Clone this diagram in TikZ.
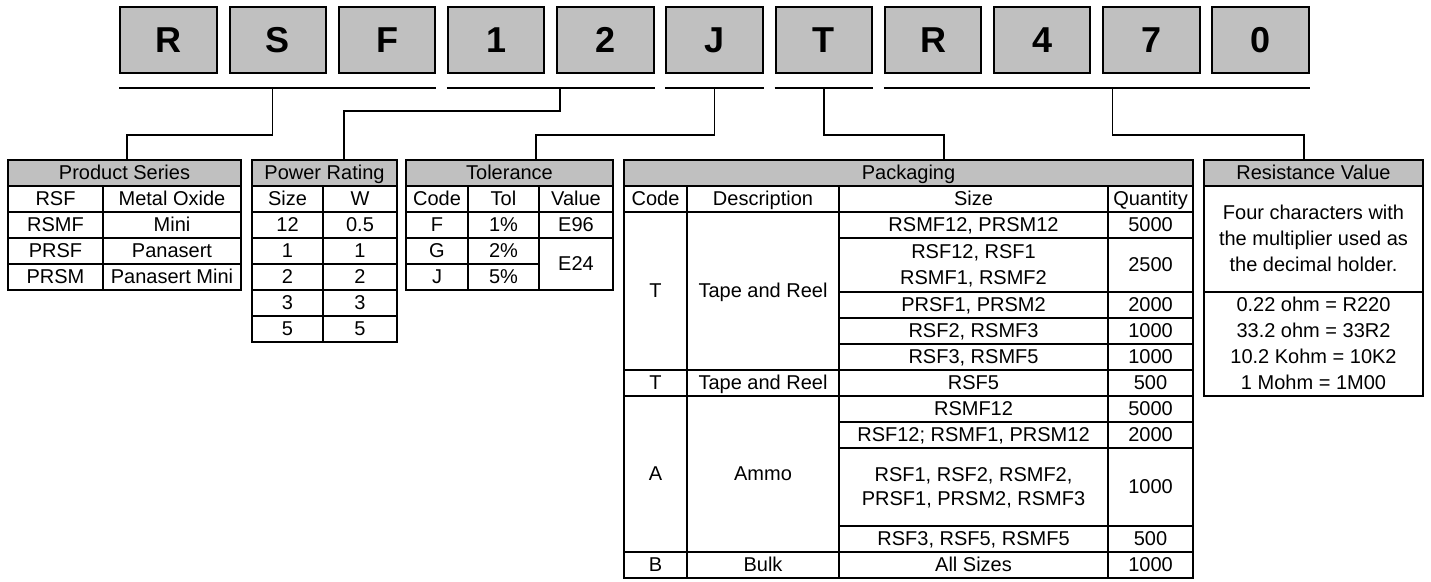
\documentclass[tikz,border=0pt]{standalone}
\usepackage{fontspec}
\setmainfont{Liberation Sans}
\usetikzlibrary{positioning,calc}
\definecolor{boxgray}{RGB}{192,192,192}

\begin{document}
\begin{tikzpicture}[x=1pt, y=-1pt,
    font=\fontsize{20}{24}\selectfont,
    digit/.style={draw, fill=boxgray, line width=2pt, minimum width=96.5pt,
      minimum height=66pt, inner sep=0pt, font=\fontsize{36}{40}\selectfont\bfseries},
    head/.style={draw, fill=boxgray, line width=1.8pt, minimum height=26pt,
      inner sep=0pt, text height=14.5pt, text depth=1pt},
    cell/.style={inner sep=0pt, text height=14.5pt, text depth=1pt},
    grid/.style={line width=1.8pt},
    uline/.style={line width=2.5pt},
    link/.style={line width=1.5pt}]
  \fill[white] (0,0) rectangle (1431,581);
  \def \pitch {109.2}
  \def \first {168.6} % centre of the first box
  % part number
  \foreach \c [count=\i from 0] in {R,S,F,1,2,J,T,R,4,7,0}
    \node[digit] (d\i) at ({\first+\pitch*\i},40) {\c};
  \coordinate (ul) at (0,88);
  \foreach \a/\b in {0/2,3/4,5/5,6/6,7/10}
    \draw[uline] (d\a.west |- ul) -- (d\b.east |- ul);

  % product series
  \node[head, minimum width=233pt] (ps) at (124.5,173) {Product Series};
  \draw[grid] (8,186) rectangle (241,290) (103,186) -- (103,290);
  \foreach \y in {212,238,264} \draw[grid] (8,\y) -- (241,\y);
  \foreach \a/\b [count=\i] in {RSF/Metal Oxide,RSMF/Mini,PRSF/Panasert,PRSM/Panasert Mini} {
    \node[cell] (psa\i) at (55.5,{173+26*\i}) {\a};
    \node[cell] (psb\i) at (172,{173+26*\i}) {\b};
  }

  % power rating
  \node[head, minimum width=145pt] (pr) at (324.5,173) {Power Rating};
  \draw[grid] (252,186) rectangle (397,342) (323,186) -- (323,342);
  \foreach \y in {212,238,264,290,316} \draw[grid] (252,\y) -- (397,\y);
  \foreach \a/\b [count=\i from 0] in {Size/W,12/0.5,1/1,2/2,3/3,5/5} {
    \node[cell] (pra\i) at (287.5,{199+26*\i}) {\a};
    \node[cell] (prb\i) at (360,{199+26*\i}) {\b};
  }

  % tolerance
  \node[head, minimum width=207pt] (tl) at (509.5,173) {Tolerance};
  \draw[grid] (406,186) rectangle (613,290) (468,186) -- (468,290) (539,186) -- (539,290);
  \draw[grid] (406,212) -- (613,212) (406,238) -- (613,238) (406,264) -- (539,264);
  \foreach \a/\b [count=\i from 0] in {Code/Tol,F/1\%,G/2\%,J/5\%} {
    \node[cell] (tla\i) at (437,{199+26*\i}) {\a};
    \node[cell] (tlb\i) at (503.5,{199+26*\i}) {\b};
  }
  \node[cell] (tlv0) at (576,199) {Value};
  \node[cell] (tlv1) at (576,225) {E96};
  \node[cell] (tlv2) at (576,264) {E24};

  % packaging
  \node[head, minimum width=569pt] (pk) at (908.5,173) {Packaging};
  \draw[grid] (624,186) rectangle (1193,578);
  \foreach \x in {687,839,1108} \draw[grid] (\x,186) -- (\x,578);
  \foreach \y in {212,370,396,552} \draw[grid] (624,\y) -- (1193,\y);
  \foreach \y in {238,292,318,344,422,448,526} \draw[grid] (839,\y) -- (1193,\y);
  \foreach \t/\x [count=\i] in {Code/655.5,Description/763,Size/973.5,Quantity/1150.5}
    \node[cell] (pkh\i) at (\x,199) {\t};
  \foreach \a/\b/\y [count=\i] in {T/Tape and Reel/291,T/Tape and Reel/383,A/Ammo/474,B/Bulk/565} {
    \node[cell] (pkc\i) at (655.5,\y) {\a};
    \node[cell] (pkd\i) at (763,\y) {\b};
  }
  \foreach \s/\y [count=\i] in {{RSMF12, PRSM12}/225,{RSF12, RSF1}/252,{RSMF1, RSMF2}/278,
      {PRSF1, PRSM2}/305,{RSF2, RSMF3}/331,{RSF3, RSMF5}/357,RSF5/383,RSMF12/409,
      {RSF12; RSMF1, PRSM12}/435,{RSF1, RSF2, RSMF2,}/475,{PRSF1, PRSM2, RSMF3}/499,
      {RSF3, RSF5, RSMF5}/539,All Sizes/565}
    \node[cell] (pks\i) at (973.5,\y) {\s};
  \foreach \q/\y [count=\i] in {5000/225,2500/265,2000/305,1000/331,1000/357,500/383,
      5000/409,2000/435,1000/487,500/539,1000/565}
    \node[cell] (pkq\i) at (1150.5,\y) {\q};

  % resistance value
  \node[head, minimum width=219pt] (rv) at (1313.5,173) {Resistance Value};
  \draw[grid] (1204,186) rectangle (1423,396) (1204,292) -- (1423,292);
  \foreach \t/\y [count=\i] in {Four characters with/213,the multiplier used as/239,
      the decimal holder./265}
    \node[cell] (rvt\i) at (1313.5,\y) {\t};
  \foreach \t/\y [count=\i] in {0.22 ohm = R220/305,33.2 ohm = 33R2/331,
      10.2 Kohm = 10K2/357,1 Mohm = 1M00/383}
    \node[cell] (rve\i) at (1313.5,\y) {\t};

  % connectors
  \coordinate (hi) at (0,111);
  \coordinate (lo) at (0,135);
  \coordinate (cRSF) at (272.5,88);
  \coordinate (c12) at (559.8,88);
  \coordinate (cJ) at (d5 |- ul);
  \coordinate (cT) at (d6 |- ul);
  \coordinate (cRV) at (1112.6,88);
  \coordinate (tPS) at (127,160);
  \coordinate (tPR) at (344,160);
  \coordinate (tTL) at (536,160);
  \coordinate (tPK) at (944,160);
  \coordinate (tRV) at (1304,160);
  \draw[link] (cRSF) -- (cRSF |- lo) -| (tPS);
  \draw[link] (c12) -- (c12 |- hi) -| (tPR);
  \draw[link] (cJ) -- (cJ |- lo) -| (tTL);
  \draw[link] (cT) -- (cT |- lo) -| (tPK);
  \draw[link] (cRV) -- (cRV |- lo) -| (tRV);
\end{tikzpicture}
\end{document}
